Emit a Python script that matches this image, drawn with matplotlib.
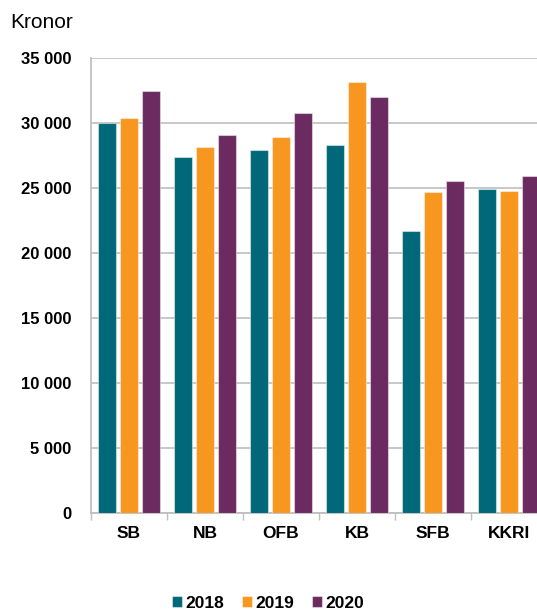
import numpy as np
import matplotlib
matplotlib.use('Agg')
import matplotlib.pyplot as plt

# data
categories = ['SB', 'NB', 'OFB', 'KB', 'SFB', 'KKRI']
years = ['2018', '2019', '2020']
v2018 = [30000, 27400, 27950, 28300, 21700, 24950]
v2019 = [30400, 28150, 28900, 33150, 24700, 24800]
v2020 = [32500, 29100, 30800, 32000, 25550, 25950]
colors = ['#006878', '#F7971F', '#6C2B60']
yticks = [0, 5000, 10000, 15000, 20000, 25000, 30000, 35000]

plt.rcParams['font.family'] = ['Liberation Sans', 'DejaVu Sans']

fig = plt.figure(figsize=(5.37, 6.12), dpi=100)
W, H = 537.0, 612.0
ax = fig.add_axes([91 / W, 99 / H, 456 / W, 455 / H])

x = np.arange(len(categories))
width = 0.24
step = 0.29
for i, (vals, col, lab) in enumerate(zip([v2018, v2019, v2020], colors, years)):
	ax.bar(x + (i - 1) * step, vals, width, color=col, label=lab,
		edgecolor=(1, 1, 1, 0.45), linewidth=0.8, zorder=3)

ax.set_xlim(-0.5, len(categories) - 0.5)
ax.set_ylim(0, 35000)
ax.set_yticks(yticks)
ax.set_yticklabels(['{:,}'.format(v).replace(',', ' ') for v in yticks],
	fontsize=12, fontweight='bold')
ax.tick_params(axis='y', length=0, pad=14)

ax.set_xticks(x)
ax.set_xticklabels(categories, fontsize=12.5, fontweight='bold')
ax.set_xticks(np.arange(len(categories) + 1) - 0.5, minor=True)
ax.tick_params(axis='x', which='major', length=0, pad=9)
ax.tick_params(axis='x', which='minor', length=5, width=1, color='#BFBFBF')

ax.grid(axis='y', color='#C4C4C4', linewidth=1.3, zorder=0)
ax.set_axisbelow(True)
for side in ['top', 'right']:
	ax.spines[side].set_visible(False)
for side in ['left', 'bottom']:
	ax.spines[side].set_color('#BFBFBF')
	ax.spines[side].set_linewidth(1.3)

fig.text(10 / W, 1 - 22 / H, 'Kronor', fontsize=15, va='center', ha='left')

fig.legend(loc='center', bbox_to_anchor=(268 / W, 1 - 603 / H), ncol=3,
	frameon=False, handlelength=0.6, handleheight=0.6, handletextpad=0.2,
	columnspacing=1.0, prop={'size': 12.5, 'weight': 'bold'})

fig.savefig('out.png', dpi=100)
